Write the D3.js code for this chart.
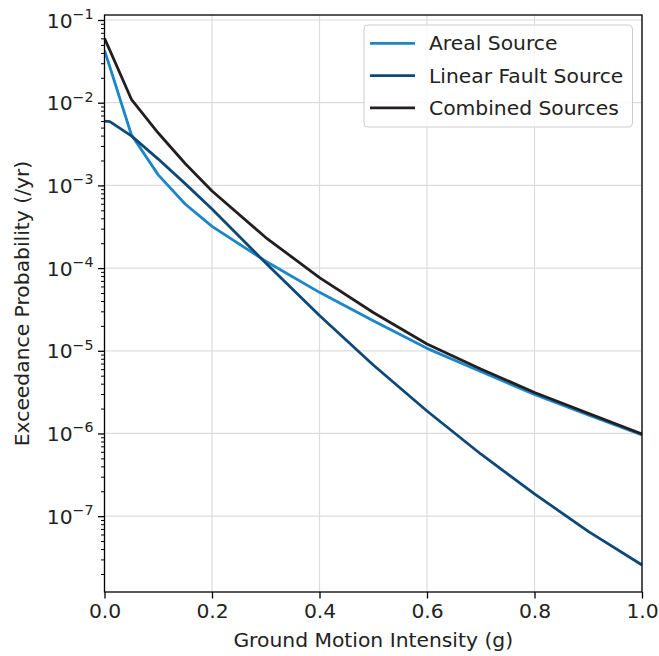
<!DOCTYPE html>
<html>
<head>
<meta charset="utf-8">
<script src="https://cdn.jsdelivr.net/npm/d3@7"></script>
<style>
  html, body { margin: 0; padding: 0; background: #fff; }
  svg { display: block; font-family: "DejaVu Sans", sans-serif; }
</style>
</head>
<body>
<svg id="chart" width="659" height="656"></svg>
<script>
// Ground motion intensity (g) at which the hazard curves are evaluated
const intensity = [0, 0.01, 0.05, 0.1, 0.15, 0.2, 0.3, 0.4, 0.5, 0.6, 0.7, 0.8, 0.9, 1.0];

// Annual exceedance probability for each source
const areal    = [0.043, 0.027, 4.1e-3, 1.34e-3, 5.96e-4, 3.2e-4, 1.21e-4, 5.09e-5, 2.31e-5, 1.07e-5, 5.62e-6, 2.96e-6, 1.67e-6, 9.6e-7];
const linear   = [6.0e-3, 5.9e-3, 3.97e-3, 2.08e-3, 1.05e-3, 5.19e-4, 1.15e-4, 2.67e-5, 6.73e-6, 1.87e-6, 5.65e-7, 1.86e-7, 6.54e-8, 2.57e-8];
const combined = [0.060, 0.043, 0.011, 4.3e-3, 1.84e-3, 8.55e-4, 2.34e-4, 7.67e-5, 2.90e-5, 1.21e-5, 6.03e-6, 3.13e-6, 1.75e-6, 9.87e-7];

const seriesNames  = ["Areal Source", "Linear Fault Source", "Combined Sources"];
const seriesColors = ["#1b86c8", "#0d4879", "#231f20"];

// Axis ticks
const xTicks = [0, 0.2, 0.4, 0.6, 0.8, 1.0];
const yTickExponents = [-1, -2, -3, -4, -5, -6, -7];

const xLabel = "Ground Motion Intensity (g)";
const yLabel = "Exceedance Probability (/yr)";

// ---- layout ----
const plotLeft = 104.5, plotRight = 642, plotTop = 15, plotBottom = 592;
const fontSize = 20.3;

const svg = d3.select("#chart");

const x = d3.scaleLinear().domain([0, 1]).range([plotLeft, plotRight]);
const y = d3.scaleLog().domain([Math.pow(10, -7.917), Math.pow(10, -0.9395)]).range([plotBottom, plotTop]);

// ---- grid ----
const grid = svg.append("g").attr("stroke", "#dcdcdc").attr("stroke-width", 1.2);
xTicks.forEach(t => {
  grid.append("line").attr("x1", x(t)).attr("x2", x(t)).attr("y1", plotTop).attr("y2", plotBottom);
});
yTickExponents.forEach(e => {
  const v = Math.pow(10, e);
  grid.append("line").attr("x1", plotLeft).attr("x2", plotRight).attr("y1", y(v)).attr("y2", y(v));
});

// ---- curves ----
const allSeries = [areal, linear, combined];
const lineGen = d3.line()
  .x((d, i) => x(intensity[i]))
  .y(d => y(d));

svg.append("clipPath").attr("id", "plotClip")
  .append("rect").attr("x", plotLeft).attr("y", plotTop)
  .attr("width", plotRight - plotLeft).attr("height", plotBottom - plotTop);

const curves = svg.append("g").attr("clip-path", "url(#plotClip)");
allSeries.forEach((s, k) => {
  curves.append("path")
    .datum(s)
    .attr("d", lineGen)
    .attr("fill", "none")
    .attr("stroke", seriesColors[k])
    .attr("stroke-width", 2.8)
    .attr("stroke-linejoin", "round")
    .attr("stroke-linecap", "butt");
});

// ---- x axis ----
const xAxis = svg.append("g")
  .attr("transform", `translate(0,${plotBottom})`)
  .call(d3.axisBottom(x).tickValues(xTicks).tickFormat(d3.format(".1f")).tickSize(6.5).tickPadding(5));
xAxis.select(".domain").remove();
xAxis.selectAll(".tick line").attr("stroke", "#000").attr("stroke-width", 1.3);
xAxis.selectAll(".tick text")
  .attr("font-family", "DejaVu Sans")
  .attr("font-size", fontSize)
  .attr("fill", "#222");

// ---- y axis: major ticks, minor ticks, labels ----
const majorVals = yTickExponents.map(e => Math.pow(10, e));
const minorVals = [];
for (let e = -8; e <= -1; e++) {
  for (let m = 2; m <= 9; m++) {
    const v = m * Math.pow(10, e);
    if (v >= y.domain()[0] && v <= y.domain()[1]) minorVals.push(v);
  }
}

const yMinor = svg.append("g")
  .attr("transform", `translate(${plotLeft},0)`)
  .call(d3.axisLeft(y).tickValues(minorVals).tickFormat("").tickSize(3.5));
yMinor.select(".domain").remove();
yMinor.selectAll(".tick line").attr("stroke", "#000").attr("stroke-width", 1);

const yMajor = svg.append("g")
  .attr("transform", `translate(${plotLeft},0)`)
  .call(d3.axisLeft(y).tickValues(majorVals).tickFormat("").tickSize(6.5));
yMajor.select(".domain").remove();
yMajor.selectAll(".tick line").attr("stroke", "#000").attr("stroke-width", 1.3);

// labels as 10 with superscript exponent
const yLabels = svg.append("g")
  .attr("font-family", "DejaVu Sans")
  .attr("fill", "#222");
yTickExponents.forEach(e => {
  const v = Math.pow(10, e);
  const t = yLabels.append("text")
    .attr("x", plotLeft - 11)
    .attr("y", y(v) + 7.5)
    .attr("text-anchor", "end")
    .attr("font-size", fontSize);
  t.append("tspan").text("10");
  t.append("tspan")
    .attr("font-size", fontSize * 0.7)
    .attr("dy", -8.5)
    .text("\u2212" + Math.abs(e));
});

// ---- frame ----
svg.append("rect")
  .attr("x", plotLeft).attr("y", plotTop)
  .attr("width", plotRight - plotLeft).attr("height", plotBottom - plotTop)
  .attr("fill", "none").attr("stroke", "#000").attr("stroke-width", 1.3);

// ---- axis titles ----
svg.append("text")
  .attr("x", (plotLeft + plotRight) / 2)
  .attr("y", 647)
  .attr("text-anchor", "middle")
  .attr("font-family", "DejaVu Sans")
  .attr("font-size", fontSize)
  .attr("fill", "#222")
  .text(xLabel);

svg.append("text")
  .attr("transform", `translate(29,${(plotTop + plotBottom) / 2}) rotate(-90)`)
  .attr("text-anchor", "middle")
  .attr("font-family", "DejaVu Sans")
  .attr("font-size", fontSize)
  .attr("fill", "#222")
  .text(yLabel);

// ---- legend ----
const legend = svg.append("g");
legend.append("rect")
  .attr("x", 364).attr("y", 25)
  .attr("width", 268.5).attr("height", 102)
  .attr("rx", 4)
  .attr("fill", "#fff").attr("fill-opacity", 0.8)
  .attr("stroke", "#cccccc").attr("stroke-width", 1);

seriesNames.forEach((name, k) => {
  const ly = 43.3 + k * 32.3;
  legend.append("line")
    .attr("x1", 370).attr("x2", 415)
    .attr("y1", ly).attr("y2", ly)
    .attr("stroke", seriesColors[k])
    .attr("stroke-width", 2.8);
  legend.append("text")
    .attr("x", 429)
    .attr("y", ly + 7)
    .attr("font-family", "DejaVu Sans")
    .attr("font-size", fontSize)
    .attr("fill", "#222")
    .text(name);
});
</script>
</body>
</html>
